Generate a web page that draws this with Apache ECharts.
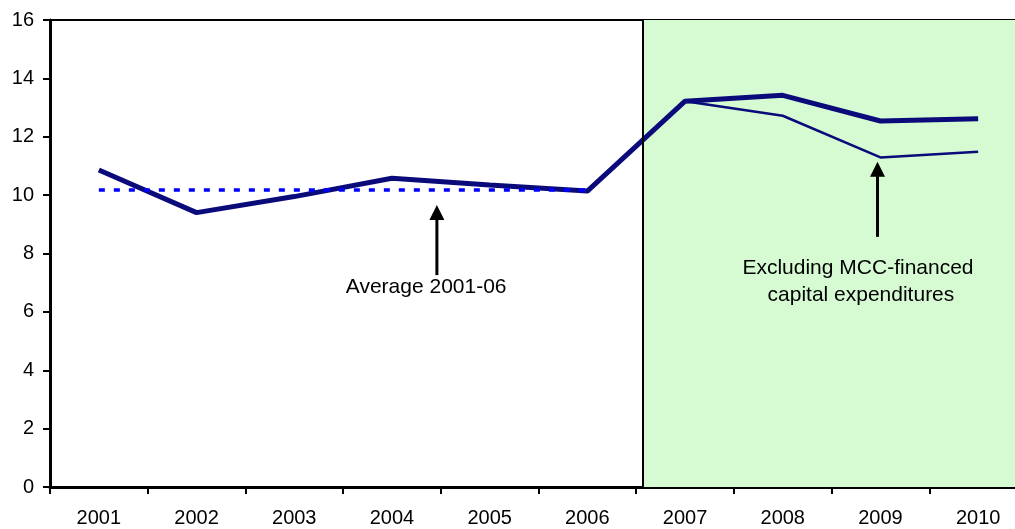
<!DOCTYPE html>
<html>
<head>
<meta charset="utf-8">
<script src="https://cdn.jsdelivr.net/npm/echarts@6/dist/echarts.min.js"></script>
<style>
html,body{margin:0;padding:0;background:#fff;}
#chart{width:1015px;height:529px;}
</style>
</head>
<body>
<div id="chart"></div>
<script>
// data
var years = ['2001','2002','2003','2004','2005','2006','2007','2008','2009','2010'];
var total = [10.86, 9.40, 9.95, 10.58, 10.35, 10.14, 13.22, 13.42, 12.54, 12.62];
var exclMCC = [null, null, null, null, null, null, 13.22, 12.72, 11.29, 11.49];
var average = 10.2;
var avgFrom = '2001', avgTo = '2006';
var yTicks = [0, 2, 4, 6, 8, 10, 12, 14, 16];
// projection area starts a touch after the 2006/2007 boundary (in category units)
var shadeFrom = 6.07;

var font = '"Liberation Sans", Arial, sans-serif';
var navy = '#0a0a7a';

var chart = echarts.init(document.getElementById('chart'));

var option = {
  animation: false,
  grid: { left: 50, top: 20, width: 977, height: 467, outerBoundsMode: 'none', containLabel: false },
  xAxis: [
    {
      type: 'category',
      data: years,
      boundaryGap: true,
      axisLine: { lineStyle: { color: '#000', width: 3 } },
      axisTick: { show: true, interval: 0, length: 7, lineStyle: { color: '#000', width: 2 } },
      axisLabel: { color: '#000', fontSize: 20, fontFamily: font, margin: 21, interval: 0 },
      splitLine: { show: false }
    },
    {
      // helper axis: 0..10 across the grid, also draws the top border
      type: 'value',
      position: 'top',
      min: 0,
      max: 10,
      axisLine: { show: true, onZero: false, lineStyle: { color: '#000', width: 2 } },
      axisTick: { show: false },
      axisLabel: { show: false },
      splitLine: { show: false }
    }
  ],
  yAxis: {
    type: 'value',
    min: yTicks[0],
    max: yTicks[yTicks.length - 1],
    interval: 2,
    axisLine: { show: true, lineStyle: { color: '#000', width: 3 } },
    axisTick: { show: true, length: 7, lineStyle: { color: '#000', width: 2 } },
    axisLabel: { color: '#000', fontSize: 20, fontFamily: font, margin: 16 },
    splitLine: { show: false }
  },
  series: [
    {
      name: 'shade',
      type: 'line',
      xAxisIndex: 1,
      data: [],
      z: 1,
      silent: true,
      markArea: {
        silent: true,
        itemStyle: { color: '#d6fbd3' },
        data: [[{ xAxis: shadeFrom }, { xAxis: 10 }]]
      },
      markLine: {
        silent: true,
        symbol: 'none',
        label: { show: false },
        lineStyle: { color: '#000', width: 2, type: 'solid' },
        data: [{ xAxis: shadeFrom }]
      }
    },
    {
      name: 'Excluding MCC-financed capital expenditures',
      type: 'line',
      data: exclMCC,
      z: 3,
      symbol: 'none',
      lineStyle: { color: navy, width: 2.5 }
    },
    {
      name: 'Total',
      type: 'line',
      data: total,
      z: 4,
      symbol: 'none',
      lineStyle: { color: navy, width: 5 },
      markLine: {
        silent: true,
        symbol: 'none',
        label: { show: false },
        lineStyle: { color: '#0000ff', width: 3.5, type: [6, 9] },
        data: [[{ coord: [avgFrom, average] }, { coord: [avgTo, average] }]]
      }
    }
  ]
};
chart.setOption(option);

// annotations, placed through the helper axis (x: 0..10) and the value axis
function px(x, y) {
  return chart.convertToPixel({ xAxisIndex: 1, yAxisIndex: 0 }, [x, y]);
}
function arrow(x, yTip, yTail) {
  var tip = px(x, yTip), tail = px(x, yTail);
  return [
    { type: 'line', shape: { x1: tip[0], y1: tip[1] + 12, x2: tail[0], y2: tail[1] },
      style: { stroke: '#000', lineWidth: 3 }, z: 10 },
    { type: 'polygon', shape: { points: [[tip[0], tip[1]], [tip[0] - 7.5, tip[1] + 15], [tip[0] + 7.5, tip[1] + 15]] },
      style: { fill: '#000' }, z: 10 }
  ];
}
function label(x, y, txt) {
  var p = px(x, y);
  return { type: 'text', x: p[0], y: p[1], z: 10,
    style: { text: txt, fill: '#000', font: '21px ' + font, align: 'center', verticalAlign: 'middle' } };
}

var g = [];
g = g.concat(arrow(3.96, 9.66, 7.26));
g.push(label(3.85, 6.86, 'Average 2001-06'));
g = g.concat(arrow(8.47, 11.14, 8.57));
g.push(label(8.27, 7.5, 'Excluding MCC-financed'));
g.push(label(8.30, 6.58, 'capital expenditures'));
chart.setOption({ graphic: g });
</script>
</body>
</html>
